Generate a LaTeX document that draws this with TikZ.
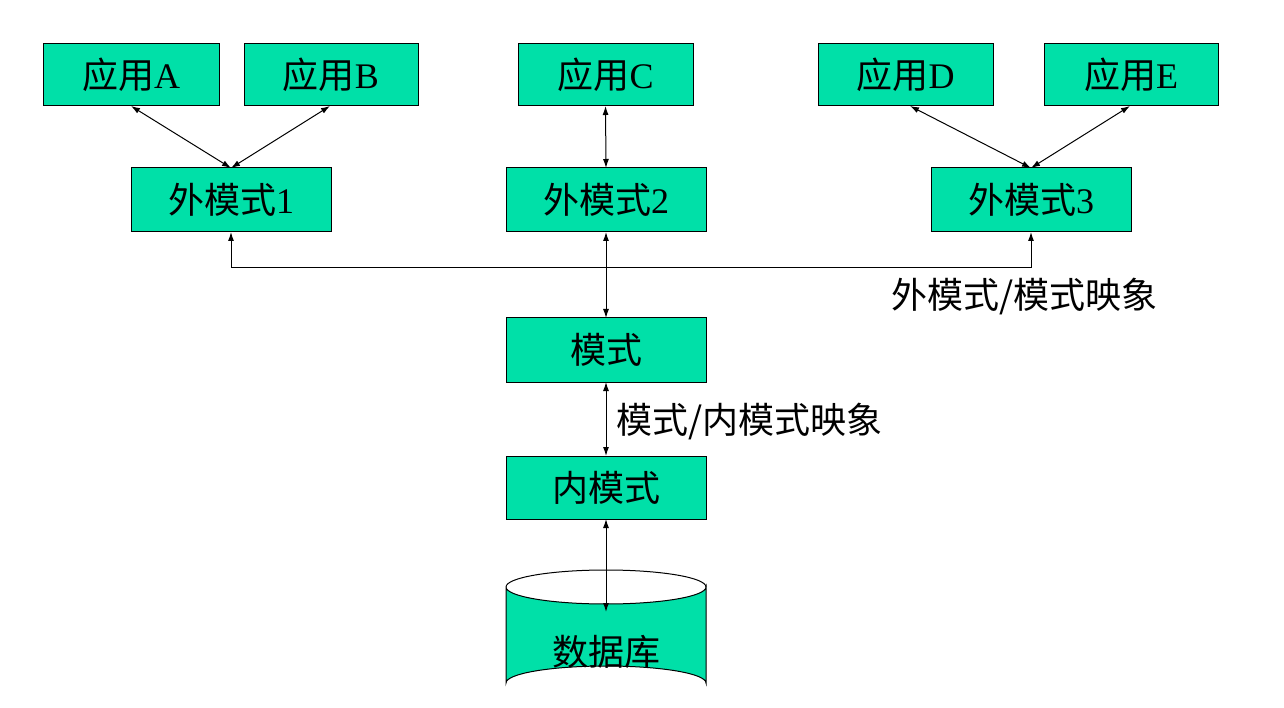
\documentclass[tikz,border=0pt]{standalone}
\usepackage{fontspec}
\setmainfont{Liberation Serif}
\newfontfamily\cjk{Noto Sans CJK SC}
\usetikzlibrary{arrows.meta}
\definecolor{boxg}{HTML}{00E0A8}
\begin{document}
\begin{tikzpicture}[x=1pt,y=-1pt,
  bx/.style={draw=black,fill=boxg,line width=1pt,inner sep=0pt},
  txt/.style={font=\fontsize{36}{40}\selectfont},
  con/.style={line width=1pt,{Latex[length=9pt,width=6pt]}-{Latex[length=9pt,width=6pt]}},
  one/.style={line width=1pt,-{Latex[length=9pt,width=6pt]}}]
\useasboundingbox (0,0) rectangle (1284,708);
\newcommand{\bxat}[6]{\draw[bx] (#2,#3) rectangle (#4,#5); \node[txt] (#1) at ({(#2+#4)/2},{(#3+#5)/2}) {#6};
  \coordinate (#1t) at ({(#2+#4)/2},#3); \coordinate (#1b) at ({(#2+#4)/2},#5);}
\bxat{A}{43}{44}{219}{106}{{\cjk 应用}A}
\bxat{B}{244}{44}{418}{106}{{\cjk 应用}B}
\bxat{C}{518}{44}{693}{106}{{\cjk 应用}C}
\bxat{D}{818}{44}{993}{106}{{\cjk 应用}D}
\bxat{E}{1044}{44}{1218}{106}{{\cjk 应用}E}
\bxat{W1}{131}{168}{331}{232}{{\cjk 外模式}1}
\bxat{W2}{506}{168}{706}{232}{{\cjk 外模式}2}
\bxat{W3}{931}{168}{1131}{232}{{\cjk 外模式}3}
\bxat{M}{506}{318}{706}{382}{\cjk 模式}
\bxat{N}{506}{456}{706}{519}{\cjk 内模式}
% database cylinder
\draw[bx] (506,587) -- (506,683) arc[start angle=180,end angle=360,x radius=100,y radius=17] -- (706,587) arc[start angle=0,end angle=180,x radius=100,y radius=17];
\draw[line width=1pt] (506,587) arc[start angle=180,end angle=360,x radius=100,y radius=17];
\node[txt] (DB) at (606,652) {\cjk 数据库};
\coordinate (DBin) at (606,612);
% arrows
\coordinate (Ab) at (131,106); \coordinate (Bb) at (330,106);
\coordinate (Db) at (910,106); \coordinate (Eb) at (1130,106);
\coordinate (W1a) at (231,168); \coordinate (W3a) at (1031,168);
\draw[con] (Ab) -- (W1a);
\draw[con] (Bb) -- (W1a);
\draw[con] (Cb) -- (W2t);
\draw[con] (Db) -- (W3a);
\draw[con] (Eb) -- (W3a);
\coordinate (h1) at (231,268); \coordinate (h3) at (1031,268);
\draw[line width=1pt] (h1) -- (h3);
\draw[one] (h1) -- (W1b);
\draw[one] (h3) -- (W3b);
\draw[con] (W2b) -- (Mt);
\draw[con] (Mb) -- (Nt);
\draw[con] (Nb) -- (DBin);
\node[txt,anchor=west] (L1) at (888,297) {\cjk 外模式/模式映象};
\node[txt,anchor=west] (L2) at (613,422) {\cjk 模式/内模式映象};
\end{tikzpicture}
\end{document}
